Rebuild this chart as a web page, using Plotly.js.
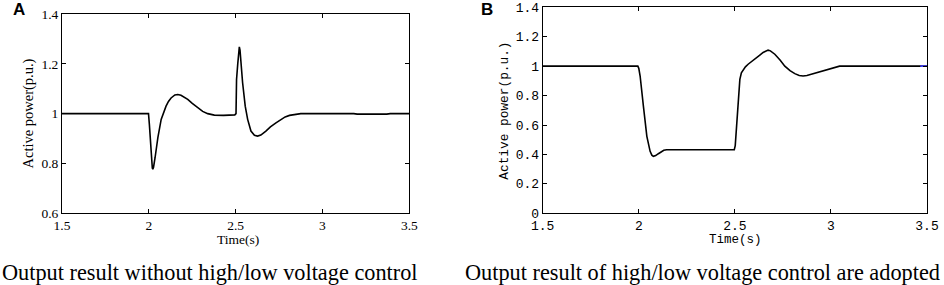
<!DOCTYPE html>
<html>
<head>
<meta charset="utf-8">
<script src="https://cdn.plot.ly/plotly-3.0.1.min.js"></script>
<style>html,body{margin:0;padding:0;background:#fff;}#chart{width:944px;height:285px;}</style>
</head>
<body>
<div id="chart"></div>
<script>
// Panel A: without high/low voltage control
const timeA = [1.5, 1.998, 2.003, 2.009, 2.015, 2.020, 2.023, 2.027, 2.036, 2.052, 2.071, 2.085, 2.099, 2.113, 2.128, 2.150, 2.167, 2.185, 2.205, 2.224, 2.25, 2.282, 2.31, 2.339, 2.36, 2.377, 2.43, 2.495, 2.502, 2.505, 2.512, 2.518, 2.521, 2.525, 2.530, 2.540, 2.555, 2.569, 2.588, 2.608, 2.626, 2.645, 2.674, 2.70, 2.732, 2.76, 2.785, 2.81, 2.837, 2.875, 3.18, 3.2, 3.37, 3.39, 3.5];
const powerA = [1, 1, 0.957, 0.877, 0.81, 0.782, 0.777, 0.785, 0.824, 0.904, 0.977, 1.008, 1.03, 1.049, 1.063, 1.075, 1.077, 1.074, 1.067, 1.057, 1.041, 1.023, 1.009, 1.0, 0.996, 0.994, 0.993, 0.995, 1.0, 1.137, 1.2, 1.255, 1.268, 1.255, 1.204, 1.124, 1.03, 0.977, 0.93, 0.913, 0.91, 0.914, 0.93, 0.947, 0.963, 0.977, 0.987, 0.993, 0.997, 1.0, 1.0, 0.998, 0.998, 1.0, 1.0];
// Panel B: high/low voltage control adopted
const timeB = [1.5, 1.995, 2.0, 2.007, 2.024, 2.042, 2.059, 2.068, 2.076, 2.088, 2.102, 2.13, 2.145, 2.497, 2.502, 2.509, 2.517, 2.526, 2.534, 2.543, 2.555, 2.569, 2.585, 2.604, 2.63, 2.647, 2.663, 2.673, 2.685, 2.708, 2.735, 2.76, 2.787, 2.812, 2.835, 2.855, 2.875, 2.907, 2.945, 2.985, 3.015, 3.045, 3.5];
const powerB = [1, 1, 0.985, 0.933, 0.728, 0.523, 0.421, 0.395, 0.387, 0.392, 0.405, 0.428, 0.432, 0.432, 0.46, 0.59, 0.774, 0.91, 0.955, 0.974, 0.995, 1.013, 1.028, 1.047, 1.075, 1.093, 1.106, 1.109, 1.104, 1.081, 1.042, 1.0, 0.969, 0.949, 0.937, 0.933, 0.937, 0.949, 0.965, 0.979, 0.991, 1.0, 1.0];
const timeBlue = [3.465, 3.5];
const powerBlue = [1, 1];

const xTicks = [1.5, 2, 2.5, 3, 3.5];
const yTicksA = [0.6, 0.8, 1, 1.2, 1.4];
const yTicksB = [0, 0.2, 0.4, 0.6, 0.8, 1, 1.2, 1.4];

const labels = {
  panelA: 'A', panelB: 'B',
  xTitle: 'Time(s)', yTitle: 'Active power(p.u.)',
  capA: 'Output result without high/low voltage control',
  capB: 'Output result of high/low voltage control are adopted'
};

const serif = 'Liberation Serif, Times New Roman, serif';
const mono = 'Liberation Mono, DejaVu Sans Mono, monospace';

const traces = [
  {x: timeA, y: powerA, xaxis: 'x', yaxis: 'y', mode: 'lines', line: {color: '#000', width: 1.6}, hoverinfo: 'skip'},
  {x: timeB, y: powerB, xaxis: 'x2', yaxis: 'y2', mode: 'lines', line: {color: '#000', width: 1.6}, hoverinfo: 'skip'},
  {x: timeBlue, y: powerBlue, xaxis: 'x2', yaxis: 'y2', mode: 'lines', line: {color: '#3b3bff', width: 1.6}, hoverinfo: 'skip'}
];

function ax(extra) {
  return Object.assign({
    showgrid: false, zeroline: false, showline: true, linecolor: '#000', linewidth: 1,
    mirror: 'ticks', ticks: 'inside', ticklen: 4, tickcolor: '#000', tickwidth: 1,
    fixedrange: true
  }, extra);
}

const layout = {
  width: 944, height: 285,
  margin: {l: 0, r: 0, t: 0, b: 0},
  paper_bgcolor: '#fff', plot_bgcolor: '#fff',
  showlegend: false,
  xaxis: ax({domain: [0.0657, 0.4336], range: [1.5, 3.5], tickvals: xTicks, anchor: 'y', tickfont: {family: serif, size: 13.5, color: '#000'}}),
  yaxis: ax({domain: [0.2516, 0.9509], range: [0.6, 1.4], tickvals: yTicksA, anchor: 'x', tickfont: {family: serif, size: 13.5, color: '#000'}}),
  xaxis2: ax({domain: [0.5749, 0.982], range: [1.5, 3.5], tickvals: xTicks, anchor: 'y2', tickfont: {family: mono, size: 13, color: '#000'}}),
  yaxis2: ax({domain: [0.2516, 0.9744], range: [0, 1.4], tickvals: yTicksB, anchor: 'x2', tickfont: {family: mono, size: 13, color: '#000'}}),
  annotations: [
    {text: labels.panelA, x: 0.0201, y: 0.965, xref: 'paper', yref: 'paper', xanchor: 'center', yanchor: 'middle', showarrow: false, font: {family: 'Liberation Sans, Arial, sans-serif', size: 17, color: '#000', weight: 'bold'}},
    {text: labels.panelB, x: 0.5164, y: 0.965, xref: 'paper', yref: 'paper', xanchor: 'center', yanchor: 'middle', showarrow: false, font: {family: 'Liberation Sans, Arial, sans-serif', size: 17, color: '#000', weight: 'bold'}},
    {text: labels.xTitle, x: 238/944, y: 1 - 239/285, xref: 'paper', yref: 'paper', xanchor: 'center', yanchor: 'middle', showarrow: false, font: {family: serif, size: 13.5, color: '#000'}},
    {text: labels.yTitle, x: 27.5/944, y: 1 - 114/285, xref: 'paper', yref: 'paper', xanchor: 'center', yanchor: 'middle', textangle: -90, showarrow: false, font: {family: serif, size: 14.5, color: '#000'}},
    {text: labels.xTitle, x: 735.7/944, y: 1 - 240/285, xref: 'paper', yref: 'paper', xanchor: 'center', yanchor: 'middle', showarrow: false, font: {family: mono, size: 12.5, color: '#000'}},
    {text: labels.yTitle, x: 503.7/944, y: 1 - 111/285, xref: 'paper', yref: 'paper', xanchor: 'center', yanchor: 'middle', textangle: -90, showarrow: false, font: {family: mono, size: 12.8, color: '#000'}},
    {text: labels.capA, x: 0, y: 1 - 272/285, xref: 'paper', yref: 'paper', xanchor: 'left', yanchor: 'middle', showarrow: false, font: {family: serif, size: 22.3, color: '#000'}},
    {text: labels.capB, x: 463/944, y: 1 - 272/285, xref: 'paper', yref: 'paper', xanchor: 'left', yanchor: 'middle', showarrow: false, font: {family: serif, size: 22.3, color: '#000'}}
  ]
};

Plotly.newPlot('chart', traces, layout, {staticPlot: true, displayModeBar: false});
</script>
</body>
</html>
